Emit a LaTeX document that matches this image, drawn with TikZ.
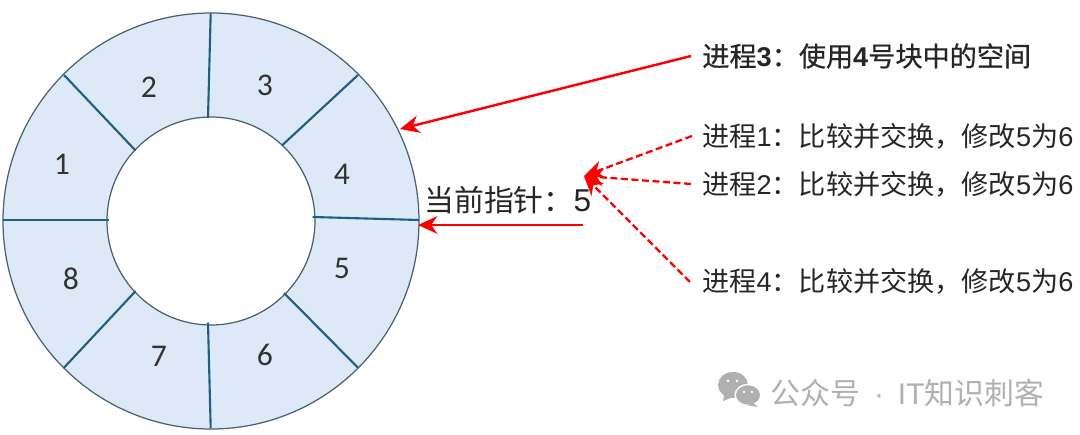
\documentclass[tikz,border=0pt]{standalone}
\usepackage{fontspec}
\usetikzlibrary{arrows.meta}
\setmainfont{Liberation Sans}
\newfontfamily\ringfont{Carlito}
\newfontfamily\cjk{Noto Sans CJK SC}
\newfontfamily\cjkbold[FakeBold=0.6]{Noto Sans CJK SC}
\definecolor{myblue}{HTML}{DDE9F6}
\definecolor{myline}{HTML}{48626F}
\definecolor{myspoke}{HTML}{1F5F7F}
\definecolor{mygray}{HTML}{B0B0B0}
\colorlet{myred}{red}
\tikzset{
  SpokeStyle/.style={color=myspoke,line width=1.2pt},
  BlockStyle/.style={text=black!80,font=\ringfont\fontsize{18}{20}\selectfont,inner sep=0pt},
  LabelStyle/.style={text=black!85,font=\fontsize{15.45}{17}\selectfont,anchor=west,inner sep=0pt},
  RedStyle/.style={color=myred,line width=1.4pt,-{Stealth[length=11pt,width=10pt,inset=3.5pt]}},
  DashStyle/.style={RedStyle,line width=1.3pt,dashed,dash pattern=on 4pt off 2pt},
}
\newcommand{\cas}[1]{{\cjk 进程}#1{\cjk ：比较并交换，修改}5{\cjk 为}6}
\begin{document}
\begin{tikzpicture}[x=0.02cm,y=-0.02cm]
\useasboundingbox (0,0) rectangle (1080,435);
\fill[white] (0,0) rectangle (1080,435);
% ring
\draw[myline,fill=myblue,line width=0.7pt,even odd rule] (211,221) circle (208) (211,221) circle (104);
\foreach \ax/\ay/\bx/\by in {210.7/13.3/208/118, 64/75/135.7/150.7, 358/75/281.7/145.7,
    419/220/312.7/217, 358/367.7/284/293, 210.7/428.3/208/322.7, 64/367.7/135.7/291, 3.3/220/109/220}
  \draw[SpokeStyle] (\ax,\ay) -- (\bx,\by);
\foreach \n/\px/\py in {1/62/164, 2/149/87, 3/265/85, 4/342/174, 5/342/268, 6/265/355, 7/159/356, 8/71/279}
  \node[BlockStyle] (block\n) at (\px,\py) {\n};
% labels
\node[LabelStyle] (proc3) at (702,56) {{\cjkbold 进程}\textbf{3}{\cjkbold ：使用}\textbf{4}{\cjkbold 号块中的空间}};
\node[LabelStyle] (proc1) at (702,136) {\cas{1}};
\node[LabelStyle] (proc2) at (702,184) {\cas{2}};
\node[LabelStyle] (proc4) at (702,281) {\cas{4}};
\node[LabelStyle,font=\fontsize{17}{19}\selectfont] (pointer) at (424,200) {{\cjk 当前指针：}\fontsize{18}{19}\selectfont 5};
% arrow ends
\coordinate (hit) at (400,129);
\coordinate (slot) at (418,225);
\coordinate (cas) at (584,176);
\coordinate (start3) at (691,56);
\coordinate (start1) at (692,136);
\coordinate (start2) at (691,184);
\coordinate (start4) at (690,282);
\coordinate (startp) at (583,225);
\draw[RedStyle] (start3) -- (hit);
\draw[RedStyle] (startp) -- (slot);
\draw[DashStyle] (start1) -- (cas);
\draw[DashStyle] (start2) -- (cas);
\draw[DashStyle] (start4) -- (cas);
% watermark
\fill[mygray] (733,385) ellipse (15 and 13);
\fill[mygray] (724,395) -- (723,401) -- (731,398) -- cycle;
\draw[white,line width=0.8pt,fill=mygray] (748,395) ellipse (12.8 and 10.5);
\fill[mygray] (753,403) -- (758,407) -- (748,405.5) -- cycle;
\foreach \ex/\ey in {728/381, 737/381}
  \fill[white] (\ex,\ey) circle (1.5);
\foreach \ex/\ey in {744/392, 752/392}
  \fill[white] (\ex,\ey) circle (1.3);
\node[LabelStyle,text=mygray,font=\fontsize{17}{19}\selectfont] (mark) at (770,393) {{\cjk 公众号}\hspace{8pt}·\hspace{8pt}IT{\cjk 知识刺客}};
\end{tikzpicture}
\end{document}
